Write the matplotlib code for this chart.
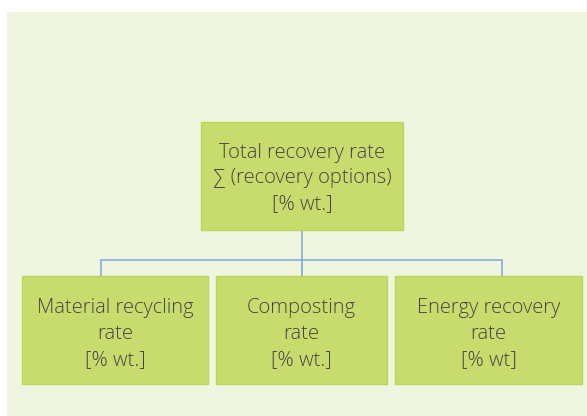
import matplotlib
matplotlib.use("Agg")
import matplotlib.pyplot as plt
from matplotlib.patches import Rectangle

top_label = "Total recovery rate\n\u2211 (recovery options)\n[% wt.]"
child_labels = [
    "Material recycling\nrate\n[% wt.]",
    "Composting\nrate\n[% wt.]",
    "Energy recovery\nrate\n[% wt]",
]

panel_color = "#F0F5DF"
box_color = "#C8DC6E"
box_edge = "#BCD65C"
line_color = "#8FB3DA"
text_color = "#444444"

W, H = 587, 416
fig = plt.figure(figsize=(W / 100, H / 100), dpi=100)
ax = fig.add_axes([0, 0, 1, 1])
ax.set_xlim(0, W)
ax.set_ylim(H, 0)
ax.axis("off")

# background panel
ax.add_patch(Rectangle((7, 12), W - 7, H - 12, facecolor=panel_color, edgecolor="none", zorder=0))

font = dict(family=["Open Sans", "DejaVu Sans"], fontsize=14.5, fontweight="light",
            color=text_color, ha="center", va="center", linespacing=1.38)

# top box
tx0, ty0, tx1, ty1 = 201, 122, 403, 230
ax.add_patch(Rectangle((tx0, ty0), tx1 - tx0, ty1 - ty0, facecolor=box_color,
                       edgecolor=box_edge, linewidth=1.0, zorder=2))
ax.text((tx0 + tx1) / 2, (ty0 + ty1) / 2 + 2.5, top_label, zorder=3, **font)

# child boxes
child_x = [(22, 208), (216, 387), (395, 582)]
cy0, cy1 = 276, 384
hy = 260
centers = [101, 302, 502]
ax.plot([302, 302], [ty1, cy0], color=line_color, lw=1.3, zorder=1)
ax.plot([centers[0], centers[-1]], [hy, hy], color=line_color, lw=1.3, zorder=1)
for (x0, x1), cx, lab in zip(child_x, centers, child_labels):
    ax.plot([cx, cx], [hy, cy0], color=line_color, lw=1.3, zorder=1)
    ax.add_patch(Rectangle((x0, cy0), x1 - x0, cy1 - cy0, facecolor=box_color,
                           edgecolor=box_edge, linewidth=1.0, zorder=2))
    ax.text((x0 + x1) / 2, (cy0 + cy1) / 2 + 4, lab, zorder=3, **font)

fig.savefig("out.png", dpi=100, facecolor="white")
